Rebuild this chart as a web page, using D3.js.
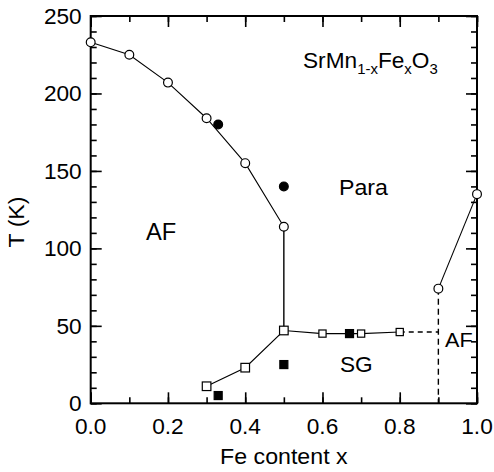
<!DOCTYPE html>
<html><head><meta charset="utf-8">
<script src="https://cdn.jsdelivr.net/npm/d3@7"></script>
<style>body{margin:0;background:#fff}svg{display:block}text{font-family:"Liberation Sans",Arial,Helvetica,sans-serif;fill:#000}</style>
</head><body><svg id="c" width="494" height="472"></svg>
<script>
// Data
const afCircles = [[0,233],[0.1,225],[0.2,207],[0.3,184],[0.4,155],[0.5,114]];
const afRightCircles = [[0.9,74],[1.0,135]];
const filledCircles = [[0.33,180],[0.5,140]];
const sgSquaresA = [[0.3,11],[0.4,23],[0.5,47]];
const sgSquaresB = [[0.6,45],[0.7,45],[0.8,46]];
const filledSquares = [[0.33,5],[0.5,25],[0.67,45]];
const verticalSolid = [[0.5,114],[0.5,47]];
const dashedH = [[0.8,46],[0.9,46]];
const dashedV = [[0.9,74],[0.9,0]];
const xTicks = [0,0.2,0.4,0.6,0.8,1.0];
const yTicks = [0,50,100,150,200,250];

const svg = d3.select("#c");
const L=90.7,R=477,T=16,B=403.3;
const SX=1.03;
const x = d3.scaleLinear().domain([0,1]).range([L,R]);
const y = d3.scaleLinear().domain([0,250]).range([B,T]);
const g = svg.append("g");
const line = d3.line().x(d=>x(d[0])).y(d=>y(d[1]));

function txt(px,py,anchor,size,str,rot){
  return svg.append("text")
    .attr("transform",`translate(${px},${py})${rot?` rotate(${rot})`:""} scale(${SX},1)`)
    .attr("text-anchor",anchor).attr("font-size",size).text(str);
}

// ticks
const xMinor = d3.range(0,1.0001,0.1), yMinor = d3.range(0,251,10);
function tickSet(axisFn, scale, vals, len, tr){
  g.append("g").attr("transform",tr).call(axisFn(scale).tickValues(vals).tickSize(len).tickFormat(""))
   .call(s=>{s.select(".domain").remove(); s.selectAll("line").attr("stroke","#000").attr("stroke-width",1.6);});
}
tickSet(d3.axisTop, x, xMinor, 6, `translate(0,${B})`);
tickSet(d3.axisTop, x, xTicks, 11, `translate(0,${B})`);
tickSet(d3.axisBottom, x, xMinor, 6, `translate(0,${T})`);
tickSet(d3.axisBottom, x, xTicks, 11, `translate(0,${T})`);
tickSet(d3.axisRight, y, yMinor, 6, `translate(${L},0)`);
tickSet(d3.axisRight, y, yTicks, 11, `translate(${L},0)`);
tickSet(d3.axisLeft, y, yMinor, 6, `translate(${R},0)`);
tickSet(d3.axisLeft, y, yTicks, 11, `translate(${R},0)`);
g.append("rect").attr("x",L).attr("y",T).attr("width",R-L).attr("height",B-T)
 .attr("fill","none").attr("stroke","#000").attr("stroke-width",2);

// tick labels
const fx = d3.format(".1f"), fy = d3.format("d");
xTicks.forEach(v=>txt(x(v),434,"middle",22,fx(v)));
yTicks.forEach(v=>txt(L-9,y(v)+7.7,"end",22,fy(v)));

// axis titles
txt((L+R)/2,464,"middle",22.5,"Fe content x");
txt(24,222,"middle",22.5,"T (K)",-90);

// lines
const lg = g.append("g").attr("fill","none").attr("stroke","#000").attr("stroke-width",1.1);
lg.append("path").attr("d",line(afCircles));
lg.append("path").attr("d",line(verticalSolid)).attr("stroke-width",1.4);
lg.append("path").attr("d",line(afRightCircles));
lg.append("path").attr("d",line(sgSquaresA.concat(sgSquaresB)));
lg.append("path").attr("d",line(dashedH)).attr("stroke-dasharray","5,4").attr("stroke-width",1.4);
lg.append("path").attr("d",line(dashedV)).attr("stroke-dasharray","6,4").attr("stroke-width",1.4);

// markers
const mg = g.append("g").attr("stroke","#000").attr("stroke-width",1.2);
mg.selectAll(".oc").data(afCircles.concat(afRightCircles)).join("circle")
  .attr("cx",d=>x(d[0])).attr("cy",d=>y(d[1])).attr("r",4.4).attr("fill","#fff");
mg.selectAll(".fc").data(filledCircles).join("circle")
  .attr("cx",d=>x(d[0])).attr("cy",d=>y(d[1])).attr("r",4.4).attr("fill","#000");
function squares(data, s, fill){
  mg.append("g").selectAll("rect").data(data).join("rect")
    .attr("x",d=>x(d[0])-s/2).attr("y",d=>y(d[1])-s/2).attr("width",s).attr("height",s).attr("fill",fill);
}
squares(sgSquaresA, 8.6, "#fff");
squares(sgSquaresB, 7.2, "#fff");
squares(filledSquares, 8, "#000");

// labels
txt(146,240,"start",23,"AF");
txt(339,195,"start",22.5,"Para");
txt(340,372,"start",22,"SG");
txt(445,347,"start",21,"AF");
const t = svg.append("text").attr("transform",`translate(303,68) scale(${SX},1)`).attr("font-size",22);
t.append("tspan").text("SrMn");
t.append("tspan").attr("font-size",14.5).attr("dy",6).text("1-x");
t.append("tspan").attr("dy",-6).text("Fe");
t.append("tspan").attr("font-size",14.5).attr("dy",6).text("x");
t.append("tspan").attr("dy",-6).text("O");
t.append("tspan").attr("font-size",14.5).attr("dy",6).text("3");
</script></body></html>
